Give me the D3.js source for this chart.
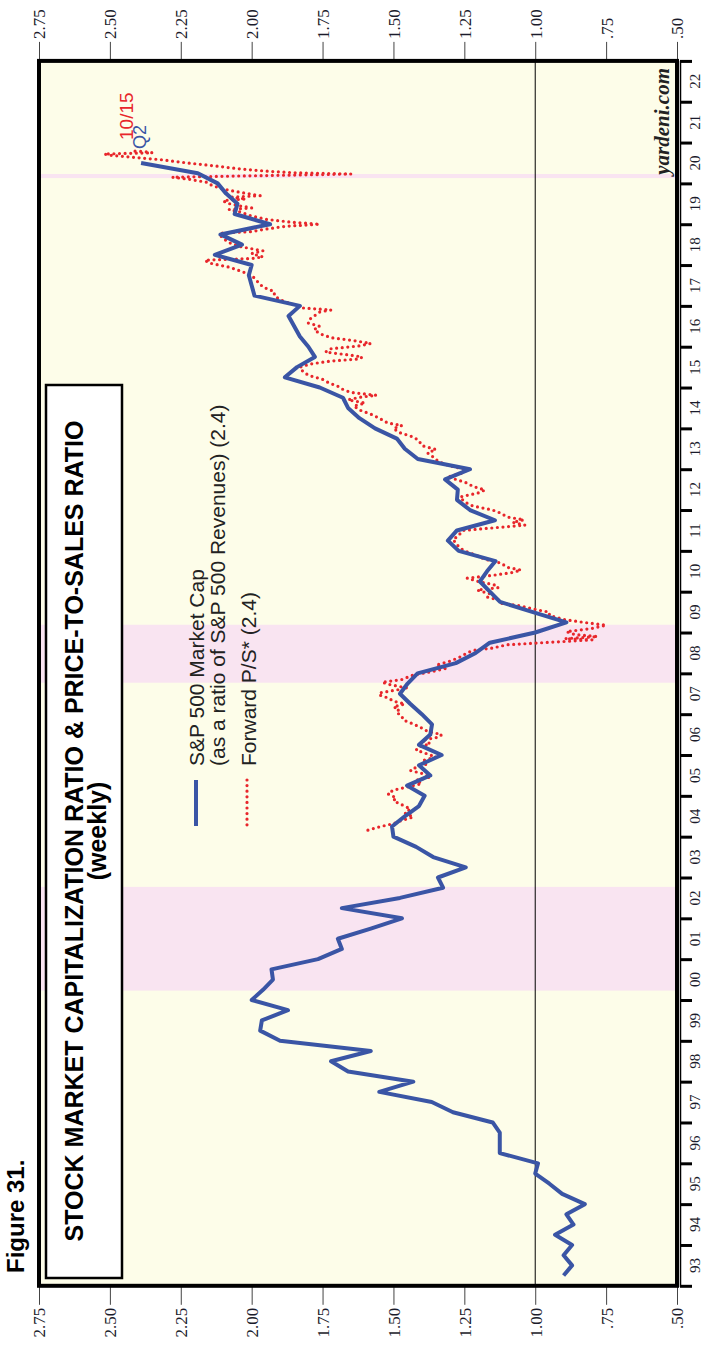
<!DOCTYPE html>
<html><head><meta charset="utf-8">
<script src="https://cdn.jsdelivr.net/npm/d3@7"></script>
<style>body{margin:0;background:#fff}svg{display:block}</style>
</head><body>
<svg id="c" width="703" height="1348"></svg>
<script>
// Quarterly S&P 500 market cap / revenues, Q1 1993 .. Q2 2020 (plotted at quarter end)
const capStart = 1993;
const capRatio = [0.90,0.87,0.90,0.87,0.93,0.865,0.89,0.825,0.905,0.95,1.00,0.99,
1.125,1.125,1.125,1.15,1.29,1.365,1.55,1.43,1.66,1.72,1.58,1.90,1.97,1.964,1.872,2.00,
1.96,1.925,1.93,1.766,1.682,1.696,1.58,1.47,1.682,1.477,1.325,1.343,1.245,1.36,1.42,1.50,
1.505,1.46,1.41,1.39,1.452,1.37,1.41,1.33,1.41,1.37,1.364,1.40,1.44,1.477,1.45,1.415,
1.28,1.21,1.16,1.00,0.89,1.008,1.124,1.16,1.195,1.17,1.14,1.27,1.308,1.276,1.142,1.23,
1.276,1.273,1.318,1.23,1.414,1.46,1.488,1.565,1.62,1.66,1.678,1.76,1.883,1.84,1.777,1.80,
1.83,1.85,1.87,1.83,1.99,2.00,2.01,2.00,2.13,2.034,2.11,1.935,2.06,2.05,2.09,2.12,2.19,2.39];

// Forward P/S (decimal year, value)
const fwdDates = [2004.16,2004.24,2004.32,2004.40,2004.48,2004.58,2004.68,2004.78,2004.88,2004.95,
2005.05,2005.14,2005.22,2005.30,2005.38,2005.46,2005.55,2005.62,2005.70,2005.78,2005.86,2005.95,
2006.05,2006.12,2006.20,2006.28,2006.36,2006.44,2006.50,2006.58,2006.66,2006.76,2006.86,2006.95,
2007.05,2007.12,2007.18,2007.25,2007.32,2007.40,2007.47,2007.52,2007.58,2007.64,2007.72,2007.78,2007.85,2007.96,
2008.05,2008.13,2008.20,2008.30,2008.40,2008.50,2008.56,2008.62,2008.70,2008.76,2008.82,2008.85,2008.90,2008.95,
2009.02,2009.10,2009.18,2009.24,2009.32,2009.42,2009.50,2009.55,2009.65,2009.72,2009.80,2009.87,2009.95,
2010.04,2010.10,2010.16,2010.25,2010.33,2010.40,2010.47,2010.53,2010.60,2010.70,2010.80,2010.90,
2011.00,2011.10,2011.20,2011.27,2011.38,2011.50,2011.58,2011.63,2011.70,2011.76,2011.83,2011.92,
2012.00,2012.10,2012.20,2012.32,2012.42,2012.49,2012.58,2012.66,2012.75,2012.81,2012.90,2012.98,
2013.08,2013.18,2013.30,2013.40,2013.48,2013.58,2013.70,2013.79,2013.90,
2014.00,2014.07,2014.13,2014.25,2014.35,2014.45,2014.55,2014.62,2014.70,2014.76,2014.81,2014.88,2014.96,
2015.05,2015.10,2015.20,2015.30,2015.40,2015.50,2015.58,2015.65,2015.70,2015.75,2015.80,2015.87,2015.95,
2016.02,2016.08,2016.15,2016.22,2016.32,2016.42,2016.50,2016.58,2016.65,2016.75,2016.85,2016.90,2016.95,
2017.05,2017.15,2017.25,2017.35,2017.46,2017.60,2017.75,2017.88,2017.95,
2018.05,2018.12,2018.16,2018.20,2018.28,2018.35,2018.45,2018.55,2018.65,2018.72,2018.78,2018.82,2018.88,2018.95,
2019.00,2019.05,2019.12,2019.20,2019.30,2019.36,2019.40,2019.46,2019.52,2019.58,2019.62,2019.66,2019.70,2019.78,2019.86,2019.95,
2020.03,2020.10,2020.15,2020.18,2020.21,2020.23,2020.26,2020.30,2020.36,2020.42,2020.48,2020.52,2020.58,2020.64,2020.69,2020.72,2020.75,2020.78,2020.79];
const fwdPS = [1.59,1.55,1.50,1.47,1.43,1.46,1.44,1.47,1.50,1.49,
1.52,1.50,1.45,1.40,1.42,1.37,1.40,1.44,1.42,1.38,1.40,1.35,
1.39,1.42,1.41,1.37,1.40,1.34,1.33,1.38,1.40,1.43,1.466,1.47,
1.49,1.48,1.50,1.46,1.50,1.52,1.55,1.55,1.50,1.45,1.51,1.54,1.47,1.43,
1.36,1.31,1.35,1.30,1.265,1.24,1.22,1.15,1.10,0.95,0.80,0.895,0.78,0.86,
0.89,0.80,0.75,0.82,0.90,0.95,0.95,0.99,1.05,1.125,1.13,1.17,1.16,
1.205,1.13,1.14,1.20,1.24,1.15,1.08,1.05,1.10,1.12,1.18,1.21,
1.25,1.27,1.28,1.29,1.27,1.255,1.12,1.036,1.08,1.04,1.10,1.12,
1.15,1.22,1.25,1.265,1.20,1.177,1.22,1.24,1.28,1.31,1.26,1.24,
1.30,1.34,1.36,1.38,1.35,1.40,1.41,1.43,1.48,
1.50,1.47,1.52,1.55,1.58,1.62,1.64,1.60,1.66,1.62,1.56,1.65,1.68,
1.70,1.724,1.75,1.80,1.82,1.83,1.79,1.72,1.62,1.61,1.66,1.74,1.72,
1.62,1.58,1.64,1.72,1.76,1.78,1.76,1.80,1.80,1.78,1.76,1.72,1.82,
1.86,1.90,1.92,1.92,1.96,1.98,2.00,2.05,2.08,
2.15,2.165,2.00,1.96,2.00,1.96,2.04,2.08,2.10,2.11,2.11,2.00,1.95,1.88,
1.76,1.86,1.95,2.00,2.04,2.08,2.00,2.05,2.09,2.10,2.02,2.08,1.97,2.04,2.10,2.14,
2.16,2.22,2.28,2.05,1.80,1.65,1.85,1.95,2.05,2.12,2.20,2.25,2.32,2.42,2.50,2.52,2.35,2.38,2.42];

const valueTicks = [2.75,2.50,2.25,2.00,1.75,1.50,1.25,1.00,0.75,0.50];
const yearTicks = d3.range(1993, 2024);
const yearLabels = ["93","94","95","96","97","98","99","00","01","02","03","04","05","06","07",
"08","09","10","11","12","13","14","15","16","17","18","19","20","21","22"];
const bearMarkets = [[2000.23,2002.77],[2007.77,2009.19],[2020.13,2020.23]];

const svg = d3.select("#c");
const L = 39, R = 677, T = 60.9, B = 1285.8;
const x = d3.scaleLinear().domain([2.75, 0.50]).range([L, R]);
const y = d3.scaleLinear().domain([1993, 2023]).range([B, T]);

const serif = "'Liberation Serif','Times New Roman',serif";
const sans = "'Liberation Sans',Arial,sans-serif";

svg.append("rect").attr("x",L).attr("y",T).attr("width",R-L).attr("height",B-T).attr("fill","#FDFDE9");
svg.selectAll("rect.band").data(bearMarkets).join("rect").attr("class","band")
  .attr("x",L).attr("width",R-L)
  .attr("y",d=>y(d[1])).attr("height",d=>y(d[0])-y(d[1]))
  .attr("fill","#F9E4F1");
svg.append("line").attr("x1",x(1)).attr("x2",x(1)).attr("y1",T).attr("y2",B)
  .attr("stroke","#000").attr("stroke-width",1);

const fmt = v => v >= 1 ? v.toFixed(2) : v.toFixed(2).slice(1);
const axTop = svg.append("g").attr("transform",`translate(0,${T})`)
  .call(d3.axisTop(x).tickValues(valueTicks).tickSize(19).tickFormat(fmt));
const axBot = svg.append("g").attr("transform",`translate(0,${B})`)
  .call(d3.axisBottom(x).tickValues(valueTicks).tickSize(19).tickFormat(fmt));
[axTop,axBot].forEach(g=>{
  g.select(".domain").remove();
  g.selectAll(".tick line").attr("stroke","#444").attr("stroke-width",1);
  g.selectAll(".tick text").attr("font-family",serif).attr("font-size",17).attr("fill","#1b1b2b");
});
axTop.selectAll(".tick text").attr("transform","rotate(-90)").attr("x",22).attr("y",0)
  .attr("dy","0.35em").attr("text-anchor","start");
axBot.selectAll(".tick text").attr("transform","rotate(-90)").attr("x",-22).attr("y",0)
  .attr("dy","0.35em").attr("text-anchor","end");

const axR = svg.append("g").attr("transform",`translate(${R+3},0)`)
  .call(d3.axisRight(y).tickValues(yearTicks).tickSize(12).tickFormat(""));
axR.select(".domain").attr("stroke","#000").attr("stroke-width",1.5);
axR.selectAll(".tick line").attr("stroke","#000").attr("stroke-width",3);
svg.append("g").selectAll("text").data(yearLabels).join("text")
  .attr("transform",(d,i)=>`translate(${R+18},${y(1993+i+0.5)}) rotate(-90)`)
  .attr("text-anchor","middle").attr("dy","0.35em")
  .attr("font-family",serif).attr("font-size",15).attr("fill","#1b1b2b").text(d=>d);

svg.append("rect").attr("x",L).attr("y",T).attr("width",R-L).attr("height",B-T)
  .attr("fill","none").attr("stroke","#000").attr("stroke-width",4);

svg.append("rect").attr("x",46).attr("y",385).attr("width",76).attr("height",893)
  .attr("fill","#fff").attr("stroke","#000").attr("stroke-width",2.5);
svg.append("text").attr("transform",`translate(83,831) rotate(-90)`).attr("text-anchor","middle")
  .attr("font-family",sans).attr("font-weight","bold").attr("font-size",25)
  .text("STOCK MARKET CAPITALIZATION RATIO & PRICE-TO-SALES RATIO");
svg.append("text").attr("transform",`translate(106,831) rotate(-90)`).attr("text-anchor","middle")
  .attr("font-family",sans).attr("font-weight","bold").attr("font-size",25).text("(weekly)");
svg.append("text").attr("transform",`translate(24,1273) rotate(-90)`)
  .attr("font-family",sans).attr("font-weight","bold").attr("font-size",24).text("Figure 31.");

svg.append("line").attr("x1",196).attr("x2",196).attr("y1",780).attr("y2",826)
  .attr("stroke","#3A55A5").attr("stroke-width",4);
svg.append("line").attr("x1",247).attr("x2",247).attr("y1",780).attr("y2",826)
  .attr("stroke","#E8262B").attr("stroke-width",3.2).attr("stroke-linecap","round").attr("stroke-dasharray","0 5.6");
[["S&P 500 Market Cap",204],["(as a ratio of S&P 500 Revenues) (2.4)",225],["Forward P/S* (2.4)",256]].forEach(d=>{
  svg.append("text").attr("transform",`translate(${d[1]},766) rotate(-90)`)
    .attr("font-family",sans).attr("font-size",21).attr("fill","#222").text(d[0]);
});

const blue = capRatio.map((v,i)=>[capStart + 0.25 + 0.25*i, v]);
const red = fwdDates.map((t,i)=>[t, fwdPS[i]]);
const line = d3.line().x(d=>x(d[1])).y(d=>y(d[0]));
svg.append("path").attr("d",line(red)).attr("fill","none").attr("stroke","#E8262B")
  .attr("stroke-width",3.2).attr("stroke-linecap","round").attr("stroke-dasharray","0 5.6");
svg.append("path").attr("d",line(blue)).attr("fill","none").attr("stroke","#3A55A5")
  .attr("stroke-width",4).attr("stroke-linejoin","round");

svg.append("text").attr("transform",`translate(133,140) rotate(-90)`)
  .attr("font-family",sans).attr("font-size",19).attr("fill","#E8262B").text("10/15");
svg.append("text").attr("transform",`translate(146,149) rotate(-90)`)
  .attr("font-family",sans).attr("font-size",18).attr("fill","#3A55A5").text("Q2");
svg.append("text").attr("transform",`translate(669,68) rotate(-90)`).attr("text-anchor","end")
  .attr("font-family",serif).attr("font-style","italic").attr("font-weight","bold")
  .attr("font-size",21).attr("fill","#222").text("yardeni.com");
</script>
</body></html>
